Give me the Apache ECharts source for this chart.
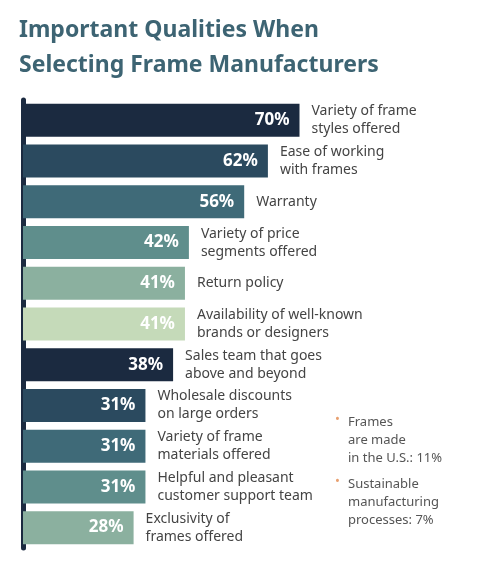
<!DOCTYPE html>
<html><head><meta charset="utf-8">
<script src="https://cdn.jsdelivr.net/npm/echarts@6/dist/echarts.min.js"></script>
<style>html,body{margin:0;padding:0;background:#fff}#c{width:477px;height:582px}</style>
</head><body><div id="c"></div>
<script>
const categories = ["Variety of frame\nstyles offered","Ease of working\nwith frames","Warranty","Variety of price\nsegments offered","Return policy","Availability of well-known\nbrands or designers","Sales team that goes\nabove and beyond","Wholesale discounts\non large orders","Variety of frame\nmaterials offered","Helpful and pleasant\ncustomer support team","Exclusivity of\nframes offered"];
const values = [70,62,56,42,41,41,38,31,31,31,28];
const colors = ["#1b2a40","#2b4a5f","#3f6a78","#5f8e8c","#8bb09f","#c5dab9","#1b2a40","#2b4a5f","#3f6a78","#5f8e8c","#8bb09f"];
const notes = [["Frames","are made","in the U.S.: 11%"],["Sustainable","manufacturing","processes: 7%"]];
const title = "Important Qualities When\nSelecting Frame Manufacturers";

const chart = echarts.init(document.getElementById('c'));
const F = "Noto Sans";
const noteGraphics = [];
notes.forEach((n,i)=>{
  const y0 = 413 + i*62;
  noteGraphics.push({type:'text',left:335,top:y0,style:{text:'•',fill:'#e8a070',font:'13px '+F}});
  noteGraphics.push({type:'text',left:348,top:y0,style:{text:n.join('\n'),fill:'#555',font:'13px '+F,lineHeight:18}});
});
chart.setOption({
  animation:false,
  title:{text:title,left:14,top:8,textStyle:{fontFamily:F,fontSize:23,fontWeight:'bold',color:'#3d6473',lineHeight:35}},
  grid:{left:23,top:100,width:395,height:448},
  xAxis:{type:'value',min:0,max:100,show:false},
  yAxis:{type:'category',inverse:true,data:categories,axisLabel:{show:false},axisTick:{show:false},
    axisLine:{show:true,lineStyle:{color:'#1b2a40',width:5}}},
  series:[
    {type:'bar',data:values.map((v,i)=>({value:v,itemStyle:{color:colors[i]}})),barWidth:33,
     label:{show:true,position:'insideRight',formatter:'{c}%',color:'#fff',fontFamily:F,fontWeight:'bold',fontSize:17,distance:10}},
    {type:'bar',data:values,barWidth:33,barGap:'-100%',itemStyle:{color:'transparent'},z:3,
     label:{show:true,position:'right',distance:12,formatter:p=>categories[p.dataIndex],color:'#444',fontFamily:F,fontSize:14,lineHeight:18}}
  ],
  graphic:noteGraphics
});
</script></body></html>
